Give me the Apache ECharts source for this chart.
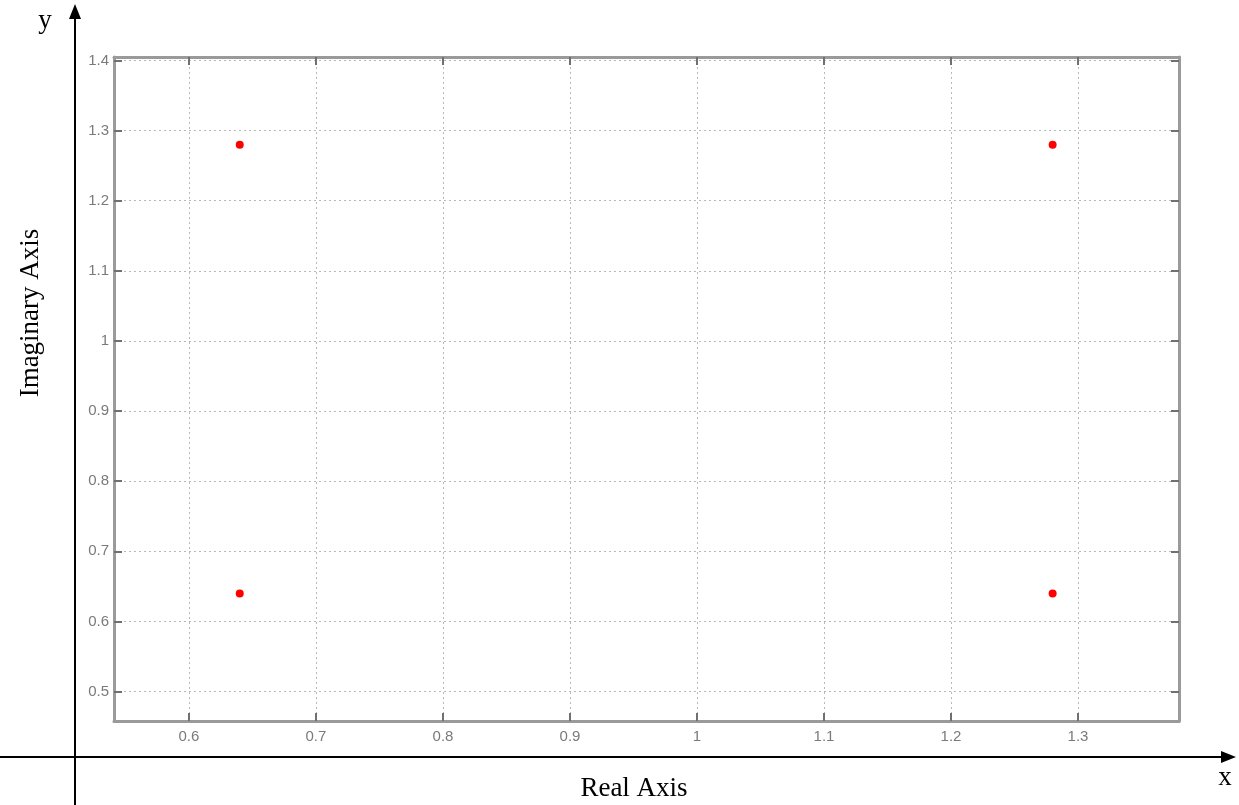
<!DOCTYPE html>
<html>
<head>
<meta charset="utf-8">
<script src="https://cdn.jsdelivr.net/npm/echarts@6/dist/echarts.min.js"></script>
<style>html,body{margin:0;padding:0;background:#fff;}#c{width:1239px;height:805px;}</style>
</head>
<body>
<div id="c"></div>
<script>
// Data
const realParts = [0.64, 1.28, 0.64, 1.28];
const imagParts = [1.28, 1.28, 0.64, 0.64];
const xTicks = [0.6, 0.7, 0.8, 0.9, 1.0, 1.1, 1.2, 1.3];
const yTicks = [0.5, 0.6, 0.7, 0.8, 0.9, 1.0, 1.1, 1.2, 1.3, 1.4];
const xTitle = 'Real Axis';
const yTitle = 'Imaginary Axis';

const points = realParts.map((r, i) => [r, imagParts[i]]);
const fmt = v => String(Math.round(v * 10) / 10);
const serif = "'Liberation Serif', 'DejaVu Serif', serif";
const tickFont = "'Liberation Sans Narrow', 'Liberation Sans', sans-serif";

const gridLine = { show: true, lineStyle: { color: '#b8b8b8', width: 1, type: [2, 3] } };
const frame = { show: true, onZero: false, lineStyle: { color: '#9a9a9a', width: 3 } };
const tick = (vals) => ({ show: true, inside: true, length: 8, customValues: vals, lineStyle: { color: '#707070', width: 2 } });

const chart = echarts.init(document.getElementById('c'));
chart.setOption({
  animation: false,
  backgroundColor: '#fff',
  grid: { left: 114, right: 60, top: 57, bottom: 84, containLabel: false },
  xAxis: [
    { type: 'value', position: 'bottom', min: 0.541, max: 1.3795,
      axisLine: frame, axisTick: tick(xTicks), splitLine: gridLine,
      axisLabel: { customValues: xTicks, formatter: fmt, color: '#7a7a7a', fontSize: 15, fontFamily: tickFont, margin: 8 } },
    { type: 'value', position: 'top', min: 0.541, max: 1.3795,
      axisLine: frame, axisTick: tick(xTicks), splitLine: { show: false }, axisLabel: { show: false } }
  ],
  yAxis: [
    { type: 'value', position: 'left', min: 0.458, max: 1.405,
      axisLine: frame, axisTick: tick(yTicks), splitLine: gridLine,
      axisLabel: { customValues: yTicks, formatter: fmt, color: '#7a7a7a', fontSize: 15, fontFamily: tickFont, margin: 5 } },
    { type: 'value', position: 'right', min: 0.458, max: 1.405,
      axisLine: frame, axisTick: tick(yTicks), splitLine: { show: false }, axisLabel: { show: false } }
  ],
  series: [{
    type: 'scatter', data: points, symbol: 'circle', symbolSize: 8,
    itemStyle: { color: '#ff0000', opacity: 1 }, silent: true
  }],
  graphic: [
    { type: 'line', shape: { x1: 75, y1: 805, x2: 75, y2: 16 }, style: { stroke: '#000', lineWidth: 2 } },
    { type: 'polygon', shape: { points: [[75, 4], [69, 19], [81, 19]] }, style: { fill: '#000' } },
    { type: 'line', shape: { x1: 0, y1: 757, x2: 1224, y2: 757 }, style: { stroke: '#000', lineWidth: 2 } },
    { type: 'polygon', shape: { points: [[1236, 757], [1221, 751], [1221, 763]] }, style: { fill: '#000' } },
    { type: 'text', x: 45, y: 21, style: { text: 'y', font: "27px " + serif, fill: '#000', textAlign: 'center', textVerticalAlign: 'middle' } },
    { type: 'text', x: 1225, y: 778, style: { text: 'x', font: "27px " + serif, fill: '#000', textAlign: 'center', textVerticalAlign: 'middle' } },
    { type: 'text', x: 634, y: 789, style: { text: xTitle, font: "27px " + serif, fill: '#000', textAlign: 'center', textVerticalAlign: 'middle' } },
    { type: 'text', x: 31, y: 313, rotation: Math.PI / 2, style: { text: yTitle, font: "27px " + serif, fill: '#000', textAlign: 'center', textVerticalAlign: 'middle' } }
  ]
});
</script>
</body>
</html>
